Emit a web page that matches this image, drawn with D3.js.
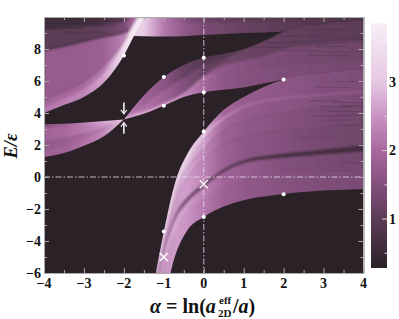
<!DOCTYPE html>
<html>
<head>
<meta charset="utf-8">
<script src="https://cdn.jsdelivr.net/npm/d3@7"></script>
<style>
  html, body { margin: 0; padding: 0; background: #fff; }
  text { font-family: "Liberation Serif", serif; font-weight: bold; fill: #111; }
</style>
</head>
<body>
<div id="chart-area"></div>
<script>
// colour bar: value -> colour
const cmapValues = [0.285, 1, 1.5, 2, 2.5, 3, 3.86]
const cmapColors = ["#2b2228", "#5c3c56", "#82507c", "#a8689e", "#c993c3", "#e6c7e2", "#f7eff6"]

// ticks
const xMajor = [-4, -3, -2, -1, 0, 1, 2, 3, 4]
const xMinor = [-3.5, -2.5, -1.5, -0.5, 0.5, 1.5, 2.5, 3.5]
const yMajor = [-6, -4, -2, 0, 2, 4, 6, 8]
const yMinor = [-5, -3, -1, 1, 3, 5, 7, 9]
const cbMajor = [1, 2, 3]
const cbMinor = [0.5, 1.5, 2.5, 3.5]

// marked points
const dotAlpha = [-2, -1, -1, -1, 0, 0, 0, 0, 2, 2]
const dotE = [7.6, 6.25, 4.45, -3.4, 7.45, 5.3, 2.85, -2.5, 6.1, -1.08]
const crossAlpha = [0, -1]
const crossE = [-0.45, -5]
const arrowAlpha = [-2, -2]
const arrowFrom = [4.65, 2.7]
const arrowTo = [3.95, 3.4]

// top strip right of the first threshold
const topAlpha = [-1.9, -1.5, -1, -0.5, 0, 1, 2, 3, 4]
const topCurves = [
  [10.3, 10.3, 10.3, 10.3, 10.3, 10.3, 10.3, 10.3, 10.3],
  [9.5, 9.5, 9.5, 9.5, 9.5, 9.55, 9.6, 9.8, 9.9],
  [8.85, 8.8, 8.78, 8.8, 8.87, 9, 9.1, 9.6, 9.8]
]
const topValues = [
  [3.3, 3.2, 2.2, 1.6, 1.2, 1, 0.9, 0.75, 0.6],
  [3.2, 3.1, 2.2, 1.7, 1.4, 1.15, 1, 0.85, 0.8]
]

// upper left band
const band1Alpha = [-4, -3.5, -3, -2.5, -2, -1.77, -1.5]
const band1Curves = [
  [10.3, 10.3, 10.3, 10.3, 10.4, 10.8, 11],
  [9.2, 9.3, 9.4, 9.5, 9.7, 10, 10.8],
  [8, 8.25, 8.55, 8.85, 9.1, 9.5, 10.7],
  [7.85, 8.12, 8.42, 8.72, 8.97, 9.3, 10.6],
  [4.8, 5.3, 5.9, 6.9, 8.4, 9.5, 10.5],
  [4.25, 4.75, 5.35, 6.3, 8, 9.1, 10.2],
  [4, 4.5, 5, 5.9, 7.6, 8.7, 9.95]
]
const band1Values = [
  [0.6, 0.6, 0.6, 0.7, 1, 1.6, 2.2],
  [1, 1, 1, 1.1, 1.4, 2, 2.6],
  [0.8, 0.8, 0.8, 0.85, 1.1, 1.8, 2.5],
  [1.75, 1.75, 1.75, 1.85, 2.3, 2.7, 3],
  [1.95, 2, 2.05, 2.25, 3, 3.3, 3.4],
  [2.15, 2.25, 2.35, 2.65, 3.5, 3.7, 3.7]
]

// lower left wedge
const wedgeAlpha = [-4, -3.5, -3, -2.5, -2]
const wedgeCurves = [
  [3.3, 3.33, 3.4, 3.5, 3.6],
  [3.1, 3.1, 3.2, 3.35, 3.6],
  [2.2, 2.4, 2.7, 3.05, 3.6],
  [1.5, 1.75, 2.2, 2.75, 3.6],
  [1.25, 1.5, 1.95, 2.55, 3.6]
]
const wedgeValues = [
  [1.5, 1.9, 2.3, 2.7, 3],
  [1.9, 2, 2.2, 2.5, 3],
  [1.7, 1.8, 2, 2.3, 3],
  [1.9, 1.9, 2.1, 2.4, 3]
]

// middle band
const band2Alpha = [-2, -1.5, -1, -0.5, 0, 0.5, 1, 1.5, 2, 3, 4]
const band2Curves = [
  [3.6, 5.1, 6.25, 7, 7.45, 7.7, 8, 8.5, 9.1, 9.6, 9.8],
  [3.6, 4.5, 5.4, 6.2, 7, 7.5, 7.97, 8.47, 9.07, 9.57, 9.77],
  [3.6, 4, 4.55, 5.3, 6.4, 7.3, 7.95, 8.45, 9.05, 9.55, 9.75],
  [3.6, 3.99, 4.52, 5.25, 6.3, 7, 7.3, 7.6, 8, 8.3, 8.5],
  [3.6, 3.98, 4.5, 5.2, 6.2, 6.5, 6.7, 6.85, 6.95, 7.15, 7.3],
  [3.6, 3.97, 4.47, 5.1, 6, 6.35, 6.55, 6.7, 6.8, 7, 7.15],
  [3.6, 3.95, 4.45, 5, 5.3, 5.45, 5.6, 5.85, 6.1, 6.5, 6.8]
]
const band2Values = [
  [2.3, 1.9, 1.6, 1.15, 0.9, 0.9, 0.9, 0.9, 0.9, 0.9, 0.9],
  [2.5, 2.1, 1.9, 1.5, 1.15, 1, 1, 1, 1, 1, 1],
  [2.5, 2.3, 2.2, 1.9, 1.45, 1.25, 1.2, 1.15, 1.1, 1.05, 1],
  [2.7, 2.5, 2.3, 2.1, 1.8, 1.65, 1.55, 1.45, 1.4, 1.3, 1.25],
  [3, 3, 2.9, 2.9, 2.6, 2.1, 1.9, 1.8, 1.7, 1.6, 1.5],
  [2.7, 2.7, 2.6, 2.4, 1.95, 1.65, 1.55, 1.5, 1.45, 1.4, 1.3]
]

// main band, upper threshold down to the lowest threshold
const band3Alpha = [-1.2, -1, -0.7, -0.4, 0, 0.5, 1, 2, 3, 4]
const band3Curves = [
  [-6, -3.4, -0.2, 1.5, 2.85, 4.2, 5, 6.1, 6.5, 6.8],
  [-6, -3.5, -0.35, 1.3, 2.65, 3.75, 4.45, 5, 5.2, 5.4],
  [-6, -3.6, -0.5, 1.1, 2.45, 3.55, 4.25, 4.8, 5, 5.2],
  [-6.2, -3.9, -0.9, 0.6, 1.8, 2.9, 3.5, 4, 4.3, 4.5],
  [-6.4, -4.2, -1.4, 0, 1.1, 2, 2.5, 2.9, 3.1, 3.3],
  [-6.6, -4.55, -2.3, -1.25, -0.4, 0.5, 1.05, 1.45, 1.7, 2],
  [-6.8, -4.7, -2.6, -1.55, -0.65, 0.3, 0.85, 1.2, 1.4, 1.6],
  [-7.2, -5.5, -3.6, -2.2, -1.5, -0.7, -0.2, 0.1, 0.3, 0.5],
  [-9, -7.6, -4.8, -3.3, -2.5, -1.85, -1.45, -1.06, -0.85, -0.75]
]
const band3Values = [
  [2.9, 3, 3.05, 3.05, 2.7, 1.95, 1.75, 1.65, 1.5, 1.45],
  [3.2, 3.3, 3.4, 3.4, 3.2, 2.4, 2.05, 1.85, 1.7, 1.65],
  [2.9, 3, 3, 2.9, 2.6, 1.95, 1.75, 1.6, 1.5, 1.4],
  [2.6, 2.7, 2.8, 2.7, 2.4, 1.85, 1.7, 1.55, 1.4, 1.3],
  [2.5, 2.5, 2.6, 2.6, 2.3, 1.85, 1.65, 1.5, 1.35, 1.25],
  [1.9, 1.7, 1.6, 1.4, 1.2, 1, 0.85, 0.7, 0.65, 0.65],
  [2.7, 2.7, 2.7, 2.6, 2.3, 1.9, 1.75, 1.5, 1.4, 1.3],
  [2.4, 2.5, 2.6, 2.5, 2.2, 1.85, 1.7, 1.55, 1.45, 1.4]
]

// fine dark striations on the right hand side
const streakStart = [2.6, 3.2, 2.9, 3.4, 3.1, 2.7, 3.3, 3, 3.3, 2.8, 3.2, 2.4, 2.9, 3.4, 3.1, 1.2, 1.6, 2, 2.5, 2.2, 2.8, 3.2, 1.9, 2.6, 3, -4, -4, -4, -3.6, -3.4, -3]
const streakEnd = [3.4, 4, 3.7, 4, 4, 3.6, 4, 3.8, 4, 3.6, 4, 3.3, 3.8, 4, 3.8, 2, 2.6, 3, 3.6, 3.1, 3.6, 4, 2.9, 3.6, 4, -2.6, -2.8, -3, -2.4, -2, -2.2]
const streakE = [4.75, 4.65, 4.4, 4.45, 4.1, 3.8, 3.85, 3.55, 3.25, 5.6, 5.95, 2.5, 2.8, 0.9, 0.4, 8.1, 8.4, 8.8, 9.2, 8.5, 8.15, 8.6, 7.9, 7.6, 7.8, 9.9, 9.6, 9.3, 9.05, 9.75, 9.45]
const streakValue = [0.8, 0.85, 0.8, 0.8, 0.8, 0.9, 0.9, 0.9, 0.9, 1, 1, 1.1, 1.1, 1, 1, 0.7, 0.7, 0.7, 0.7, 0.75, 0.8, 0.8, 0.9, 0.9, 0.9, 0.4, 0.45, 0.5, 0.6, 0.5, 0.55]

const WIDTH = 399
const HEIGHT = 319
const MARGIN = { LEFT: 44, RIGHT: 35.5, TOP: 17, BOTTOM: 46 }
const PW = WIDTH - MARGIN.LEFT - MARGIN.RIGHT
const PH = HEIGHT - MARGIN.TOP - MARGIN.BOTTOM

const x = d3.scaleLinear().domain([-4, 4]).range([0, PW])
const y = d3.scaleLinear().domain([-6, 10]).range([PH, 0])
const color = d3.scaleLinear().domain(cmapValues).range(cmapColors)

const svg = d3.select("#chart-area").append("svg")
  .attr("width", WIDTH)
  .attr("height", HEIGHT)
  .style("display", "block")
const defs = svg.append("defs")

defs.append("filter").attr("id", "soft")
  .attr("x", "-10%").attr("y", "-10%").attr("width", "120%").attr("height", "120%")
  .append("feGaussianBlur").attr("stdDeviation", 0.8)

defs.append("clipPath").attr("id", "plot-clip")
  .append("rect").attr("width", PW).attr("height", PH)

const g = svg.append("g").attr("transform", `translate(${MARGIN.LEFT}, ${MARGIN.TOP})`)

// dark background = lowest value on the bar
const plot = g.append("g").attr("clip-path", "url(#plot-clip)")
plot.append("rect").attr("width", PW).attr("height", PH).attr("fill", color(cmapValues[0]))

let gradId = 0
function alongAlpha(alpha, values) {
  const id = "grad" + (gradId++)
  const a0 = alpha[0], a1 = alpha[alpha.length - 1]
  const grad = defs.append("linearGradient").attr("id", id)
    .attr("gradientUnits", "userSpaceOnUse")
    .attr("x1", x(a0)).attr("x2", x(a1)).attr("y1", 0).attr("y2", 0)
  alpha.forEach((a, i) => {
    grad.append("stop").attr("offset", (a - a0) / (a1 - a0)).attr("stop-color", color(values[i]))
  })
  return `url(#${id})`
}

function drawBand(name, alpha, curves, values) {
  const area = (upper, lower) => d3.area()
    .x((d, i) => x(alpha[i]))
    .y0((d, i) => y(lower[i]))
    .y1((d, i) => y(upper[i]))
    .curve(d3.curveMonotoneX)(alpha)

  defs.append("clipPath").attr("id", name + "-clip")
    .append("path").attr("d", area(curves[0], curves[curves.length - 1]))

  const band = plot.append("g").attr("clip-path", `url(#${name}-clip)`)
    .append("g").attr("filter", "url(#soft)")

  values.forEach((v, i) => {
    const paint = alongAlpha(alpha, v)
    const path = band.append("path")
      .attr("d", area(curves[i], curves[i + 1]))
      .attr("fill", paint)
    // outer ribbons bleed past the clip so the blur keeps a hard edge
    if (i === 0 || i === values.length - 1) {
      path.attr("stroke", paint).attr("stroke-width", 4)
    }
  })
}

drawBand("top", topAlpha, topCurves, topValues)
drawBand("band2", band2Alpha, band2Curves, band2Values)
drawBand("band3", band3Alpha, band3Curves, band3Values)
drawBand("band1", band1Alpha, band1Curves, band1Values)
drawBand("wedge", wedgeAlpha, wedgeCurves, wedgeValues)

// striations
plot.selectAll(".streak")
  .data(streakE)
  .enter().append("line")
  .attr("class", "streak")
  .attr("x1", (d, i) => x(streakStart[i]))
  .attr("x2", (d, i) => x(streakEnd[i]))
  .attr("y1", d => y(d))
  .attr("y2", d => y(d))
  .attr("stroke", (d, i) => color(streakValue[i]))
  .attr("stroke-width", 1)
  .attr("stroke-opacity", 0.45)

// reference lines
const refColor = "#eadfea"
g.append("line").attr("x1", 0).attr("x2", PW).attr("y1", y(0)).attr("y2", y(0))
  .attr("stroke", refColor).attr("stroke-width", 0.8).attr("stroke-dasharray", "6,2,1.5,2")
g.append("line").attr("x1", x(0)).attr("x2", x(0)).attr("y1", 0).attr("y2", PH)
  .attr("stroke", refColor).attr("stroke-width", 0.8).attr("stroke-dasharray", "6,2,1.5,2")

// points, crosses, arrows
g.selectAll(".dot").data(dotE).enter().append("circle")
  .attr("class", "dot")
  .attr("cx", (d, i) => x(dotAlpha[i]))
  .attr("cy", d => y(d))
  .attr("r", 2)
  .attr("fill", "#fff")

g.selectAll(".cross").data(crossE).enter().append("path")
  .attr("class", "cross")
  .attr("transform", (d, i) => `translate(${x(crossAlpha[i])}, ${y(d)})`)
  .attr("d", d3.symbol(d3.symbolTimes, 45))
  .attr("fill", "none")
  .attr("stroke", "#fff")
  .attr("stroke-width", 1.4)

arrowFrom.forEach((from, i) => {
  const px = x(arrowAlpha[i]), y0 = y(from), y1 = y(arrowTo[i])
  const dir = y1 > y0 ? 1 : -1
  g.append("line").attr("x1", px).attr("x2", px).attr("y1", y0).attr("y2", y1)
    .attr("stroke", "#f4f0f4").attr("stroke-width", 1.6)
  g.append("path")
    .attr("d", `M${px - 3},${y1 - dir * 4}L${px},${y1}L${px + 3},${y1 - dir * 4}`)
    .attr("fill", "none").attr("stroke", "#f4f0f4").attr("stroke-width", 1.1)
})

// axes, ticks inside on all four sides
const tickColor = "#aaa"
function styleAxis(sel) {
  sel.attr("color", tickColor)
  sel.selectAll(".domain").attr("stroke-width", 1)
  sel.selectAll("text").remove()
}
function frameAxis(maker, scale, ticks, size, shift) {
  const sel = g.append("g")
    .attr("transform", shift)
    .call(maker(scale).tickValues(ticks).tickSize(-size).tickSizeOuter(0))
  styleAxis(sel)
}
const down = `translate(0, ${PH})`
const over = `translate(${PW}, 0)`
frameAxis(d3.axisBottom, x, xMajor, 5, down)
frameAxis(d3.axisBottom, x, xMinor, 3, down)
frameAxis(d3.axisTop, x, xMajor, 5, "")
frameAxis(d3.axisTop, x, xMinor, 3, "")
frameAxis(d3.axisLeft, y, yMajor, 5, "")
frameAxis(d3.axisLeft, y, yMinor, 3, "")
frameAxis(d3.axisRight, y, yMajor, 5, over)
frameAxis(d3.axisRight, y, yMinor, 3, over)

g.selectAll(".x-label").data(xMajor).enter().append("text")
  .attr("class", "x-label")
  .attr("x", d => x(d))
  .attr("y", PH + 15)
  .attr("text-anchor", "middle")
  .attr("font-size", "14px")
  .text(d => d3.format("d")(d))

g.selectAll(".y-label").data(yMajor).enter().append("text")
  .attr("class", "y-label")
  .attr("x", -3)
  .attr("y", d => y(d) + 4.5)
  .attr("text-anchor", "end")
  .attr("font-size", "14px")
  .text(d => d3.format("d")(d))

// axis titles
const xTitle = svg.append("g").attr("font-size", "20px")
const xTitleY = 313
xTitle.append("text").attr("x", 150).attr("y", xTitleY)
  .html('<tspan font-style="italic">α</tspan> = ln(<tspan font-style="italic">a</tspan>')
xTitle.append("text").attr("x", 219).attr("y", 304).attr("font-size", "11px").text("eff")
xTitle.append("text").attr("x", 218).attr("y", 317).attr("font-size", "11px").text("2D")
xTitle.append("text").attr("x", 233).attr("y", xTitleY)
  .html('/<tspan font-style="italic">a</tspan>)')

svg.append("text")
  .attr("transform", "translate(17, 146) rotate(-90)")
  .attr("text-anchor", "middle")
  .attr("font-size", "18.5px")
  .attr("font-style", "italic")
  .text("E/ε")

// colour bar
const CB = { X: 371, Y: 23.3, W: 16, H: 244.7 }
const cb = d3.scaleLinear().domain([cmapValues[0], cmapValues[cmapValues.length - 1]]).range([CB.H, 0])
const cbGrad = defs.append("linearGradient").attr("id", "cb-grad")
  .attr("x1", 0).attr("x2", 0).attr("y1", 1).attr("y2", 0)
cmapValues.forEach((v, i) => {
  cbGrad.append("stop")
    .attr("offset", (CB.H - cb(v)) / CB.H)
    .attr("stop-color", cmapColors[i])
})
const cbG = svg.append("g").attr("transform", `translate(${CB.X}, ${CB.Y})`)
cbG.append("rect").attr("width", CB.W).attr("height", CB.H).attr("fill", "url(#cb-grad)")
const cbTick = (values, size) => cbG.selectAll(null).data(values).enter().append("line")
  .attr("x1", CB.W - size).attr("x2", CB.W)
  .attr("y1", d => cb(d)).attr("y2", d => cb(d))
  .attr("stroke", "#d8d0d8").attr("stroke-width", 1)
cbTick(cbMajor, 5)
cbTick(cbMinor, 2.5)
cbG.selectAll(".cb-label").data(cbMajor).enter().append("text")
  .attr("class", "cb-label")
  .attr("x", CB.W + 2)
  .attr("y", d => cb(d) + 4.5)
  .attr("font-size", "14px")
  .text(d => d)
</script>
</body>
</html>
